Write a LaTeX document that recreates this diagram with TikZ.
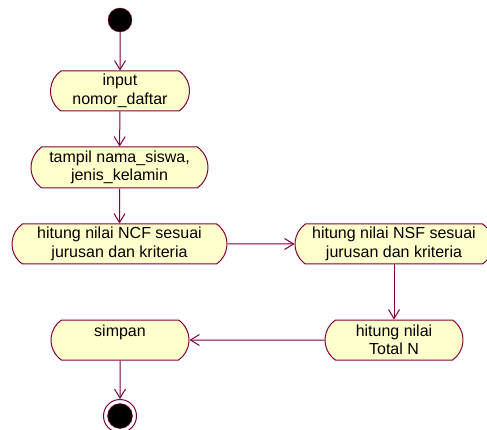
\documentclass[tikz,border=0pt]{standalone}
\usepackage{fontspec}
\setmainfont{Liberation Sans}
\usetikzlibrary{arrows.meta,shapes.misc}
\definecolor{umlline}{RGB}{128,0,64}
\definecolor{umlfill}{RGB}{255,255,204}
\begin{document}
\begin{tikzpicture}[x=1pt,y=-1pt,
  act/.style={rounded rectangle, rounded rectangle arc length=110,
    draw=umlline, fill=umlfill, line width=1pt,
    minimum height=40pt, align=center, inner sep=0pt,
    font=\fontsize{16}{18.5}\selectfont},
  flow/.style={draw=umlline, line width=1pt, -{Straight Barb[length=9pt,width=11pt]}}]
\useasboundingbox (0,0) rectangle (487,430);
\fill[white] (0,0) rectangle (487,430);
\node[circle, fill=black, draw=umlline, minimum size=24pt, inner sep=0pt] (start) at (120,20) {};
\node[act, minimum width=139pt] (b1) at (120,91) {input\\nomor\_daftar};
\node[act, minimum width=177pt, minimum height=41pt] (b2) at (119.5,167.5) {tampil nama\_siswa,\\jenis\_kelamin};
\node[act, minimum width=215pt] (b3) at (119.5,244) {hitung nilai NCF sesuai\\jurusan dan kriteria};
\node[act, minimum width=198pt] (b4) at (394,244) {hitung nilai NSF sesuai\\jurusan dan kriteria};
\node[act, minimum width=138pt] (b5) at (394,340) {hitung nilai\\Total N};
\node[act, minimum width=138pt] (b6) at (120,340) {simpan\\\mbox{}};
\node[circle, draw=umlline, fill=white, line width=1pt, minimum size=33pt, inner sep=0pt] (end) at (120,416) {};
\node[circle, draw=umlline, fill=black, minimum size=25pt, inner sep=0pt] (endin) at (end) {};
\draw[flow] (start) -- (b1);
\draw[flow] (b1) -- (b2);
\draw[flow] (b2) -- (b3);
\draw[flow] (b3) -- (b4);
\draw[flow] (b4.south) -- (b5.north);
\draw[flow] (b5) -- (b6);
\draw[flow] (b6) -- (end);
\end{tikzpicture}
\end{document}
